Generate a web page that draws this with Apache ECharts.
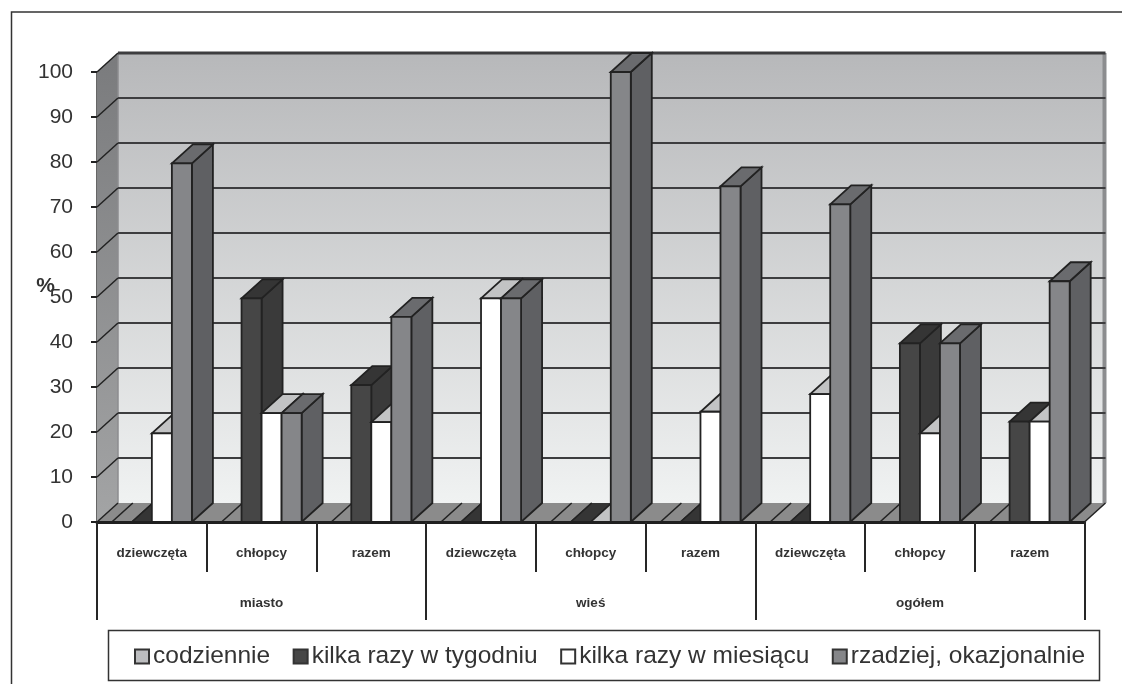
<!DOCTYPE html>
<html>
<head>
<meta charset="utf-8">
<style>html,body{margin:0;padding:0;background:#fff}#c{width:1122px;height:684px}</style>
<script src="https://cdn.jsdelivr.net/npm/echarts@6/dist/echarts.min.js"></script>
</head>
<body>
<div id="c"></div>
<script>
// Survey results: how often, by settlement type and gender (%)
const subCategories = ['dziewczęta','chłopcy','razem','dziewczęta','chłopcy','razem','dziewczęta','chłopcy','razem'];
const groups = ['miasto','wieś','ogółem'];
const seriesNames = ['codziennie','kilka razy w tygodniu','kilka razy w miesiącu','rzadziej, okazjonalnie'];
const codziennie = [0,0,0,0,0,0,0,0,0];
const kilkaTydzien = [0,49.7,30.4,0,0,0,0,39.7,22.3];
const kilkaMiesiac = [19.7,24.2,22.2,49.7,0,24.5,28.4,19.7,22.3];
const rzadziej = [79.7,24.2,45.6,49.7,100,74.6,70.6,39.7,53.5];
const wallTicks = [0,10,20,30,40,50,60,70,80,90,100];

const frontColors = ['#bcbdbf','#464646','#ffffff','#858689'];
const topColors   = ['#8b8b8b','#353535','#c2c3c4','#6a6b6e'];
const sideColors  = ['#8b8b8b','#3a3a3a','#c2c3c4','#5f6063'];

// Oblique projection shared by the walls and the bars
const DEPTH_X = 21, DEPTH_Y = -19;
const EDGE = '#222222';

function face(points, fill) {
  return {type:'polygon', shape:{points}, style:{fill, stroke:EDGE, lineWidth:1.8}};
}

function renderWalls(params, api) {
  const cs = params.coordSys;
  const l = cs.x, r = cs.x + cs.width, t = cs.y, b = cs.y + cs.height;
  const grad = (c0, c1) => new echarts.graphic.LinearGradient(0,0,0,1,[{offset:0,color:c0},{offset:1,color:c1}]);
  return {type:'group', children:[
    {type:'polygon', shape:{points:[[l+DEPTH_X,t+DEPTH_Y],[r+DEPTH_X,t+DEPTH_Y],[r+DEPTH_X,b+DEPTH_Y],[l+DEPTH_X,b+DEPTH_Y]]},
     style:{fill:grad('#b7b8ba','#f0f2f2')}},
    {type:'polygon', shape:{points:[[l,t],[l+DEPTH_X,t+DEPTH_Y],[l+DEPTH_X,b+DEPTH_Y],[l,b]]},
     style:{fill:grad('#7a7b7d','#a3a4a5')}},
    {type:'polygon', shape:{points:[[l,b],[l+DEPTH_X,b+DEPTH_Y],[r+DEPTH_X,b+DEPTH_Y],[r,b]]},
     style:{fill:'#8b8b8b'}},
    {type:'line', shape:{x1:r+DEPTH_X-1,y1:t+DEPTH_Y,x2:r+DEPTH_X-1,y2:b+DEPTH_Y}, style:{stroke:'#8c8d8f',lineWidth:4}},
    {type:'line', shape:{x1:l+DEPTH_X,y1:t+DEPTH_Y,x2:l+DEPTH_X,y2:b+DEPTH_Y}, style:{stroke:'#8c8d8f',lineWidth:1.5}},
    {type:'line', shape:{x1:r,y1:b,x2:r+DEPTH_X,y2:b+DEPTH_Y}, style:{stroke:EDGE,lineWidth:1.5}}
  ]};
}

function renderGridLine(params, api) {
  const cs = params.coordSys;
  const y = api.coord([0, api.value(0)])[1];
  const l = cs.x, r = cs.x + cs.width;
  const children = [
    {type:'line', shape:{x1:l,y1:y,x2:l+DEPTH_X,y2:y+DEPTH_Y}, style:{stroke:EDGE,lineWidth:1.5}}
  ];
  if (api.value(0) > 0) {
    children.push({type:'line', shape:{x1:l+DEPTH_X,y1:y+DEPTH_Y,x2:r+DEPTH_X,y2:y+DEPTH_Y},
      style:{stroke:'#3d3d3f',lineWidth: api.value(0) === 100 ? 3 : 2}});
  }
  return {type:'group', children};
}

function renderBar(seriesIdx) {
  return function (params, api) {
    const band = api.size([1,0])[0];
    const w = band * 0.1825;
    const top = api.coord([api.value(0), api.value(1)]);
    const base = api.coord([api.value(0), 0]);
    const x0 = top[0] - 2*w + seriesIdx*w, x1 = x0 + w;
    const yT = top[1], yB = base[1];
    if (yB <= yT) {
      // A zero value leaves only the top face lying on the floor, outlined by its diagonals
      const diag = x => ({type:'line', shape:{x1:x,y1:yB,x2:x+DEPTH_X,y2:yB+DEPTH_Y}, style:{stroke:EDGE,lineWidth:1.6}});
      return {type:'group', children:[
        {type:'polygon', shape:{points:[[x0,yB],[x1,yB],[x1+DEPTH_X,yB+DEPTH_Y],[x0+DEPTH_X,yB+DEPTH_Y]]}, style:{fill:topColors[seriesIdx]}},
        diag(x0), diag(x1)
      ]};
    }
    return {type:'group', children:[
      face([[x1,yT],[x1+DEPTH_X,yT+DEPTH_Y],[x1+DEPTH_X,yB+DEPTH_Y],[x1,yB]], sideColors[seriesIdx]),
      face([[x0,yT],[x1,yT],[x1+DEPTH_X,yT+DEPTH_Y],[x0+DEPTH_X,yT+DEPTH_Y]], topColors[seriesIdx]),
      face([[x0,yT],[x1,yT],[x1,yB],[x0,yB]], frontColors[seriesIdx])
    ]};
  };
}

const values = [codziennie, kilkaTydzien, kilkaMiesiac, rzadziej];
const barSeries = values.map((vals, s) => ({
  name: seriesNames[s],
  type: 'custom',
  xAxisIndex: 0, yAxisIndex: 0,
  clip: false,
  silent: true,
  z: 5 + s,
  itemStyle: {color: frontColors[s]},
  renderItem: renderBar(s),
  encode: {x:0, y:1},
  data: vals.map((v,i) => [i,v])
}));

const chart = echarts.init(document.getElementById('c'), null, {renderer:'canvas'});
const labelFont = 'Liberation Sans, Arial, sans-serif';
chart.setOption({
  animation: false,
  backgroundColor: '#ffffff',
  grid: {left:97, right:37.5, top:72, bottom:162, containLabel:false},
  xAxis: [{
    type:'category', data:subCategories, position:'bottom',
    axisLine:{show:true, onZero:false, lineStyle:{color:'#1f1f1f', width:3}},
    axisTick:{show:true, length:50, lineStyle:{color:'#262626', width:2}},
    axisLabel:{show:true, interval:0, margin:24, fontFamily:labelFont, fontWeight:'bold', fontSize:13.5, color:'#333'},
    z:8
  },{
    type:'category', data:groups, position:'bottom',
    axisLine:{show:false},
    axisTick:{show:true, length:98, lineStyle:{color:'#262626', width:2}},
    axisLabel:{show:true, interval:0, margin:74, fontFamily:labelFont, fontWeight:'bold', fontSize:13.5, color:'#333'},
    z:8
  }],
  yAxis: [{
    type:'value', min:0, max:100, interval:10,
    name:'%', nameLocation:'middle', nameRotate:0, nameGap:42, nameMoveOverlap:false,
    nameTextStyle:{fontFamily:labelFont, fontSize:21, fontWeight:'bold', color:'#333', verticalAlign:'bottom'},
    axisLine:{show:true, lineStyle:{color:'#333', width:1.5}},
    axisTick:{show:true, length:6, lineStyle:{color:'#222', width:2}},
    axisLabel:{margin:24, fontFamily:labelFont, fontSize:21, color:'#333'},
    splitLine:{show:false}
  }],
  legend: {
    data: seriesNames, left:134, top:644, icon:'rect',
    itemWidth:14, itemHeight:14, itemGap:22.5,
    itemStyle:{borderColor:'#333', borderWidth:2},
    textStyle:{fontFamily:labelFont, fontSize:24.5, color:'#333', padding:[0,0,0,-1]},
    selectedMode:false, padding:0
  },
  graphic: [
    {type:'polyline', silent:true, shape:{points:[[11.5,684],[11.5,12],[1122,12]]}, style:{fill:'none', stroke:'#333', lineWidth:1.5}},
    {type:'rect', silent:true, shape:{x:108.5,y:630.5,width:991,height:50}, style:{fill:'none', stroke:'#333', lineWidth:1.5}}
  ],
  series: [
    {name:'walls', type:'custom', clip:false, silent:true, z:1, renderItem:renderWalls, data:[[0]], encode:{y:0}},
    {name:'gridlines', type:'custom', clip:false, silent:true, z:2, renderItem:renderGridLine, data:wallTicks.map(t=>[t]), encode:{y:0}},
    ...barSeries
  ]
});
</script>
</body>
</html>
